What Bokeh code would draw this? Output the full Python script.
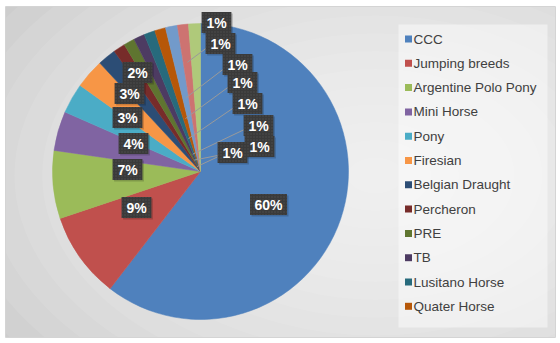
import math
from bokeh.plotting import figure
from bokeh.models import Range1d
from bokeh.core.properties import value
from bokeh.embed import file_html
from bokeh.resources import INLINE

# ---- data ---------------------------------------------------------------
breeds = ["CCC", "Jumping breeds", "Argentine Polo Pony", "Mini Horse", "Pony",
          "Firesian", "Belgian Draught", "Percheron", "PRE", "TB",
          "Lusitano Horse", "Quater Horse", "Other A", "Other B", "Other C"]
shares = [60.4, 9.4, 7.4, 4.3, 3.3, 3.2, 2.0, 1.3, 1.2, 1.2, 1.2, 1.2, 1.3, 1.2, 1.3]
colors = ["#4F81BD", "#C0504D", "#9BBB59", "#8064A2", "#4BACC6", "#F79646",
          "#2C4D75", "#772C2A", "#5F7530", "#4D3B62", "#276A7C", "#B65708",
          "#729ACA", "#CD7371", "#AFC97A"]
legend_count = 12  # entries that fit in the legend box

# ---- layout (pixel coordinates, y measured downward) ---------------------
W, H = 560, 343
CX, CY, R = 200, 171, 148
label_xy = [(268, 204), (136, 207), (127, 169), (133, 143), (127, 117),
            (129, 93), (137, 72), (232, 152), (259, 146), (258, 125),
            (247, 103), (242, 82), (237, 64), (220, 43), (216, 22)]
# leader line: radius of the end point inside the slice (None = no line)
leader_r = [None] * 7 + [6, 13, 19, 35, 55, 75, 110, None]


def up(y):
    return H - y


p = figure(width=W, height=H, x_range=Range1d(0, W), y_range=Range1d(0, H),
           output_backend="svg", toolbar_location=None,
           x_axis_location=None, y_axis_location=None, min_border=0)
p.grid.visible = False
p.outline_line_color = None
p.background_fill_color = "white"
p.border_fill_color = "white"

# chart area with a soft radial shading
p.quad(left=5, right=555, top=up(6), bottom=up(337), fill_color="#c4c4c4", line_color=None)
steps = 18
for i in range(steps):
    f = 1 - i / steps
    p.ellipse(x=375, y=up(175), width=1000 * f, height=640 * f,
              fill_color="white", fill_alpha=0.085, line_color=None)
# clean margin outside the chart area
p.quad(left=[0, 0, 0, 555], right=[560, 560, 5, 560], top=[H, up(337), H, H],
       bottom=[up(6), 0, 0, 0], fill_color="white", line_color=None)
p.quad(left=5, right=555, top=up(6), bottom=up(337), fill_color=None,
       line_color="#d4d4d4", line_width=1)

# ---- pie ----------------------------------------------------------------
total = sum(shares)
starts, ends, mids = [], [], []
acc = 0.0
for v in shares:
    a0 = acc / total * 2 * math.pi
    acc += v
    a1 = acc / total * 2 * math.pi
    starts.append(math.pi / 2 - a0)
    ends.append(math.pi / 2 - a1)
    mids.append((a0 + a1) / 2)

p.wedge(x=CX, y=up(CY), radius=R, start_angle=starts, end_angle=ends,
        direction="clock", fill_color=colors, line_color=colors, line_width=0.5)

# leader lines from the small-slice labels
for i, r in enumerate(leader_r):
    if r is None:
        continue
    lx, ly = label_xy[i]
    ex = CX + r * math.sin(mids[i])
    ey = CY - r * math.cos(mids[i])
    p.line(x=[lx - 12, ex], y=[up(ly + 3), up(ey)], line_color="#9a9a9a", line_width=1)

# ---- data labels ------------------------------------------------------------
labels = [f"{round(v / total * 100)}%" for v in shares]


def text_width(s):
    return sum(11.6 if ch == "%" else 7.2 for ch in s)


bw = [text_width(s) + 11 for s in labels]
lx = [xy[0] for xy in label_xy]
ly = [up(xy[1]) for xy in label_xy]
p.rect(x=[x + 1.5 for x in lx], y=[y - 1.5 for y in ly], width=bw, height=21,
       fill_color="black", fill_alpha=0.18, line_color=None)
p.rect(x=lx, y=ly, width=bw, height=21, fill_color="#3a3a3a", line_color=None,
       hatch_pattern="dot", hatch_color="#5c5c5c", hatch_scale=3, hatch_weight=1,
       hatch_alpha=0.6)
p.text(x=lx, y=ly, text=labels, text_color="white", text_font=value("Liberation Sans"),
       text_font_size="14px", text_font_style="bold", text_align="center",
       text_baseline="middle")

# ---- legend -------------------------------------------------------------
p.quad(left=398, right=547, top=up(24), bottom=up(327), fill_color="white",
       fill_alpha=0.45, line_color=None)
leg_y = [up(38.5 + 24.3 * i) for i in range(legend_count)]
p.rect(x=[408] * legend_count, y=leg_y, width=7, height=7,
       fill_color=colors[:legend_count], line_color=None)
p.text(x=[413] * legend_count, y=leg_y, text=breeds[:legend_count],
       text_color="#404040", text_font=value("Liberation Sans"),
       text_font_size="13.5px", text_align="left", text_baseline="middle")

open("out.html", "w").write(file_html(p, INLINE))
